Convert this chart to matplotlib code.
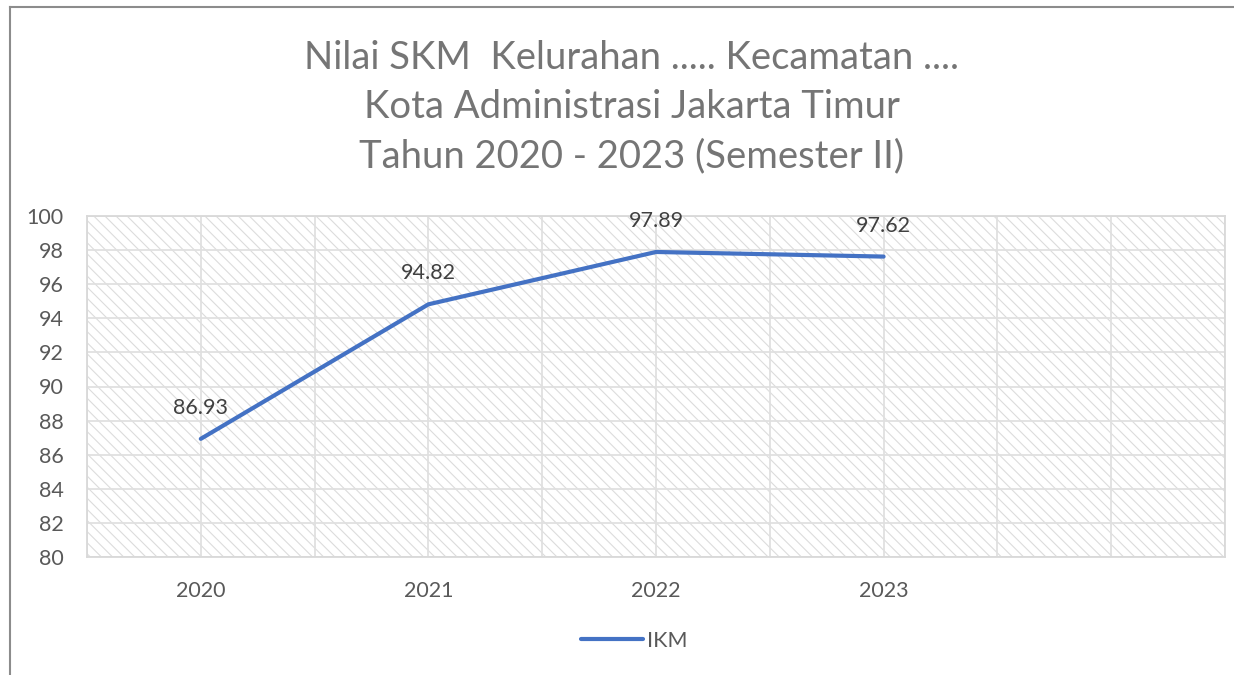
import matplotlib
matplotlib.use('Agg')
import matplotlib.pyplot as plt
from matplotlib.patches import Rectangle
from matplotlib.lines import Line2D

years = ['2020', '2021', '2022', '2023', '']
ikm = [86.93, 94.82, 97.89, 97.62]
y_ticks = [80, 82, 84, 86, 88, 90, 92, 94, 96, 98, 100]
title = 'Nilai SKM  Kelurahan ..... Kecamatan ....\nKota Administrasi Jakarta Timur\nTahun 2020 - 2023 (Semester II)'

plt.rcParams['font.family'] = ['Lato', 'DejaVu Sans']
plt.rcParams['hatch.linewidth'] = 0.8
text_color = '#595959'
line_color = '#4472C4'

fig = plt.figure(figsize=(12.34, 6.75), dpi=100)
ax = fig.add_axes([87/1234, 1 - 557/675, (1225 - 87)/1234, (557 - 216)/675])

ax.set_xlim(-0.5, len(years) - 0.5)
ax.set_ylim(y_ticks[0], y_ticks[-1])

# hatched plot background
ax.add_patch(Rectangle((0, 0), 1, 1, transform=ax.transAxes, facecolor='white',
                       edgecolor='#dcdcdc', linewidth=0, hatch='\\\\\\', zorder=0))

ax.set_yticks(y_ticks)
ax.set_xticks(range(len(years)))
ax.set_xticklabels(years)
ax.grid(False)
for yv in y_ticks:
    ax.axhline(yv, color='#e0e0e0', lw=1.3, zorder=1)
for xv in [i * 0.5 - 0.5 for i in range(2 * len(years) + 1)]:
    ax.axvline(xv, color='#e0e0e0', lw=1.3, zorder=1)
ax.tick_params(which='both', length=0, colors=text_color, labelsize=15.5)
ax.tick_params(axis='x', pad=17)
ax.tick_params(axis='y', pad=17)
for s in ax.spines.values():
    s.set_color('#d9d9d9')
    s.set_linewidth(1.3)

xs = list(range(len(ikm)))
ax.plot(xs, ikm, color=line_color, lw=3.0, solid_capstyle='round', zorder=3)
for x, v in zip(xs, ikm):
    ax.annotate(f'{v:.2f}', (x, v), xytext=(0, 15), textcoords='offset points',
                ha='center', va='bottom', fontsize=15.5, color='#404040', zorder=4)

fig.text(632/1234, 1 - 107/675, title, ha='center', va='center', fontsize=27.5,
         color='#757575', linespacing=1.45)

# legend
leg = fig.legend(handles=[Line2D([], [], color=line_color, lw=3.0, solid_capstyle='round')],
                 labels=['IKM'], loc='center', bbox_to_anchor=(634/1234, 1 - 641/675),
                 frameon=False, fontsize=15.5, handlelength=2.9, handletextpad=0.15)
for t in leg.get_texts():
    t.set_color(text_color)

# chart frame (left and top edges visible)
fig.add_artist(Line2D([9.5/1234, 9.5/1234], [0, 1 - 7/675], transform=fig.transFigure,
                      color='#8c8c8c', lw=1.5))
fig.add_artist(Line2D([9.5/1234, 1], [1 - 7/675, 1 - 7/675], transform=fig.transFigure,
                      color='#8c8c8c', lw=1.5))

fig.savefig('out.png', dpi=100)
